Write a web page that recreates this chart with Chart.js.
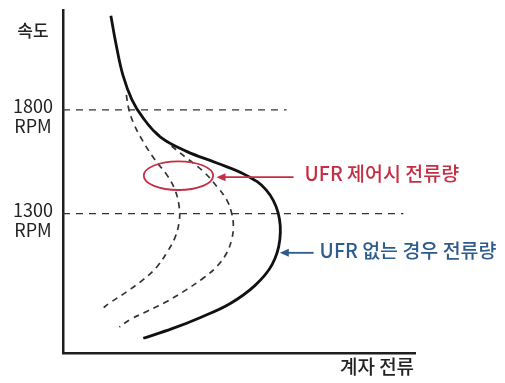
<!DOCTYPE html>
<html lang="ko">
<head>
<meta charset="utf-8">
<title>계자 전류 - 속도</title>
<script src="https://cdn.jsdelivr.net/npm/chart.js@4.4.1/dist/chart.umd.min.js"></script>
<style>
  html, body { margin: 0; padding: 0; background: #ffffff; }
  #wrap { width: 505px; height: 383px; position: relative; }
</style>
</head>
<body>
<div id="wrap"><canvas id="chart" width="505" height="383"></canvas></div>
<script>
// Field current (arbitrary units, 0-100) against speed (RPM)

// Field current without UFR (solid curve)
const fullCurrent = [13.6, 15.1, 17.0, 19.6, 22.7, 27.6, 35.1, 43.7, 51.7, 57.7, 61.1, 61.6, 59.4, 54.5, 47.4, 38.9, 31.0, 22.8];
const fullSpeed   = [2252, 2113, 1968, 1848, 1762, 1670, 1600, 1544, 1488, 1415, 1305, 1175, 1055, 954, 867, 800, 747, 701];

// Field current under UFR control, deeper reduction (inner dashed curve)
const ufrLowCurrent = [18.0, 18.6, 20.0, 22.8, 26.1, 29.5, 31.8, 33.0, 33.0, 31.8, 29.5, 26.7, 22.8, 18.1, 13.4, 11.0];
const ufrLowSpeed   = [1872, 1810, 1737, 1646, 1560, 1487, 1415, 1334, 1262, 1185, 1113, 1045, 983, 925, 872, 841];

// Field current under UFR control, lighter reduction (middle dashed curve)
const ufrMidCurrent = [23.9, 26.7, 30.4, 35.1, 39.9, 43.7, 46.5, 47.9, 48.4, 47.9, 46.5, 43.7, 39.9, 35.1, 29.5, 23.8, 19.0, 16.0];
const ufrMidSpeed   = [1733, 1688, 1632, 1568, 1503, 1431, 1367, 1303, 1238, 1175, 1111, 1046, 991, 935, 878, 830, 790, 755];

// Reference speeds and how far their guide lines run
const refSpeeds = [1800, 1300];
const refLineEnds = [63.5, 96.7];
const refUnit = 'RPM';

// Axis titles and callouts
const yTitle = '속도';
const xTitle = '계자 전류';
const ufrLabel = 'UFR 제어시 전류량';
const noUfrLabel = 'UFR 없는 경우 전류량';

// Callout anchors in data units
const ufrRegion = { x: 32.8, y: 1483, rx: 9.85, ry: 69 };
const ufrArrow = { fromX: 65.5, toX: 43.6, y: 1476 };
const noUfrArrow = { fromX: 71.2, toX: 61.6, y: 1112 };

const toPoints = (xs, ys) => xs.map((x, i) => ({ x, y: ys[i] }));

const FONT = '"Noto Sans CJK KR", "Noto Sans", sans-serif';
const RED = '#c52f45';
const BLUE = '#2d5b8c';

const datasets = [
  {
    label: 'UFR 없는 경우',
    data: toPoints(fullCurrent, fullSpeed),
    borderColor: '#111111',
    borderWidth: 2.8,
    tension: 0.4,
    pointRadius: 0,
    showLine: true,
    fill: false
  },
  {
    label: 'UFR 제어 1',
    data: toPoints(ufrLowCurrent, ufrLowSpeed),
    borderColor: '#333333',
    borderWidth: 1.7,
    borderDash: [6, 5],
    tension: 0.4,
    pointRadius: 0,
    showLine: true,
    fill: false
  },
  {
    label: 'UFR 제어 2',
    data: toPoints(ufrMidCurrent, ufrMidSpeed),
    borderColor: '#333333',
    borderWidth: 1.7,
    borderDash: [6, 5],
    tension: 0.4,
    pointRadius: 0,
    showLine: true,
    fill: false
  }
];

refSpeeds.forEach((s, i) => {
  datasets.push({
    label: s + ' ' + refUnit,
    data: [{ x: 0, y: s }, { x: refLineEnds[i], y: s }],
    borderColor: '#333333',
    borderWidth: 1.3,
    borderDash: [7, 6],
    tension: 0,
    pointRadius: 0,
    showLine: true,
    fill: false
  });
});

function arrow(ctx, x1, x2, y, color) {
  ctx.save();
  ctx.strokeStyle = color;
  ctx.fillStyle = color;
  ctx.lineWidth = 1.8;
  ctx.beginPath();
  ctx.moveTo(x1, y);
  ctx.lineTo(x2 + 7, y);
  ctx.stroke();
  ctx.beginPath();
  ctx.moveTo(x2, y);
  ctx.lineTo(x2 + 9, y - 4);
  ctx.lineTo(x2 + 9, y + 4);
  ctx.closePath();
  ctx.fill();
  ctx.restore();
}

const annotations = {
  id: 'annotations',
  afterDatasetsDraw(chart) {
    const { ctx, chartArea, scales: { x, y } } = chart;
    ctx.save();

    // Axis titles
    ctx.fillStyle = '#222222';
    ctx.textBaseline = 'middle';
    ctx.textAlign = 'center';
    ctx.font = '500 17px ' + FONT;
    ctx.fillText(yTitle, chartArea.left - 30, chartArea.top + 21);
    ctx.font = '500 19px ' + FONT;
    ctx.fillText(xTitle, chartArea.right - 38, chartArea.bottom + 14);

    // Reference speed labels
    ctx.font = '400 18px ' + FONT;
    refSpeeds.forEach(s => {
      const py = y.getPixelForValue(s);
      ctx.fillText(String(s), chartArea.left - 30, py - 4);
      ctx.fillText(refUnit, chartArea.left - 30, py + 16);
    });

    // UFR controlled region
    ctx.strokeStyle = RED;
    ctx.lineWidth = 1.8;
    const cx = x.getPixelForValue(ufrRegion.x);
    const cy = y.getPixelForValue(ufrRegion.y);
    const rx = Math.abs(x.getPixelForValue(ufrRegion.x + ufrRegion.rx) - cx);
    const ry = Math.abs(y.getPixelForValue(ufrRegion.y + ufrRegion.ry) - cy);
    ctx.beginPath();
    ctx.ellipse(cx, cy, rx, ry, 0, 0, Math.PI * 2);
    ctx.stroke();

    // Callout arrows
    const ay1 = y.getPixelForValue(ufrArrow.y);
    arrow(ctx, x.getPixelForValue(ufrArrow.fromX), x.getPixelForValue(ufrArrow.toX), ay1, RED);
    const ay2 = y.getPixelForValue(noUfrArrow.y);
    arrow(ctx, x.getPixelForValue(noUfrArrow.fromX), x.getPixelForValue(noUfrArrow.toX), ay2, BLUE);

    // Callout texts
    ctx.textAlign = 'left';
    ctx.font = '500 19.5px ' + FONT;
    ctx.fillStyle = RED;
    ctx.fillText(ufrLabel, x.getPixelForValue(ufrArrow.fromX) + 11, ay1 - 4);
    ctx.fillStyle = BLUE;
    ctx.fillText(noUfrLabel, x.getPixelForValue(noUfrArrow.fromX) + 6, ay2 - 2);

    ctx.restore();
  }
};

new Chart(document.getElementById('chart'), {
  type: 'scatter',
  data: { datasets },
  options: {
    responsive: false,
    animation: false,
    events: [],
    layout: { padding: { left: 63, top: 10, right: 90, bottom: 30 } },
    plugins: {
      legend: { display: false },
      tooltip: { enabled: false }
    },
    scales: {
      x: {
        type: 'linear',
        min: 0,
        max: 100,
        grid: { display: false, drawTicks: false },
        ticks: { display: false },
        border: { display: true, color: '#1e1e1e', width: 2.5 }
      },
      y: {
        type: 'linear',
        min: 630,
        max: 2280,
        grid: { display: false, drawTicks: false },
        ticks: { display: false },
        border: { display: true, color: '#1e1e1e', width: 2.5 }
      }
    }
  },
  plugins: [annotations]
});
</script>
</body>
</html>
